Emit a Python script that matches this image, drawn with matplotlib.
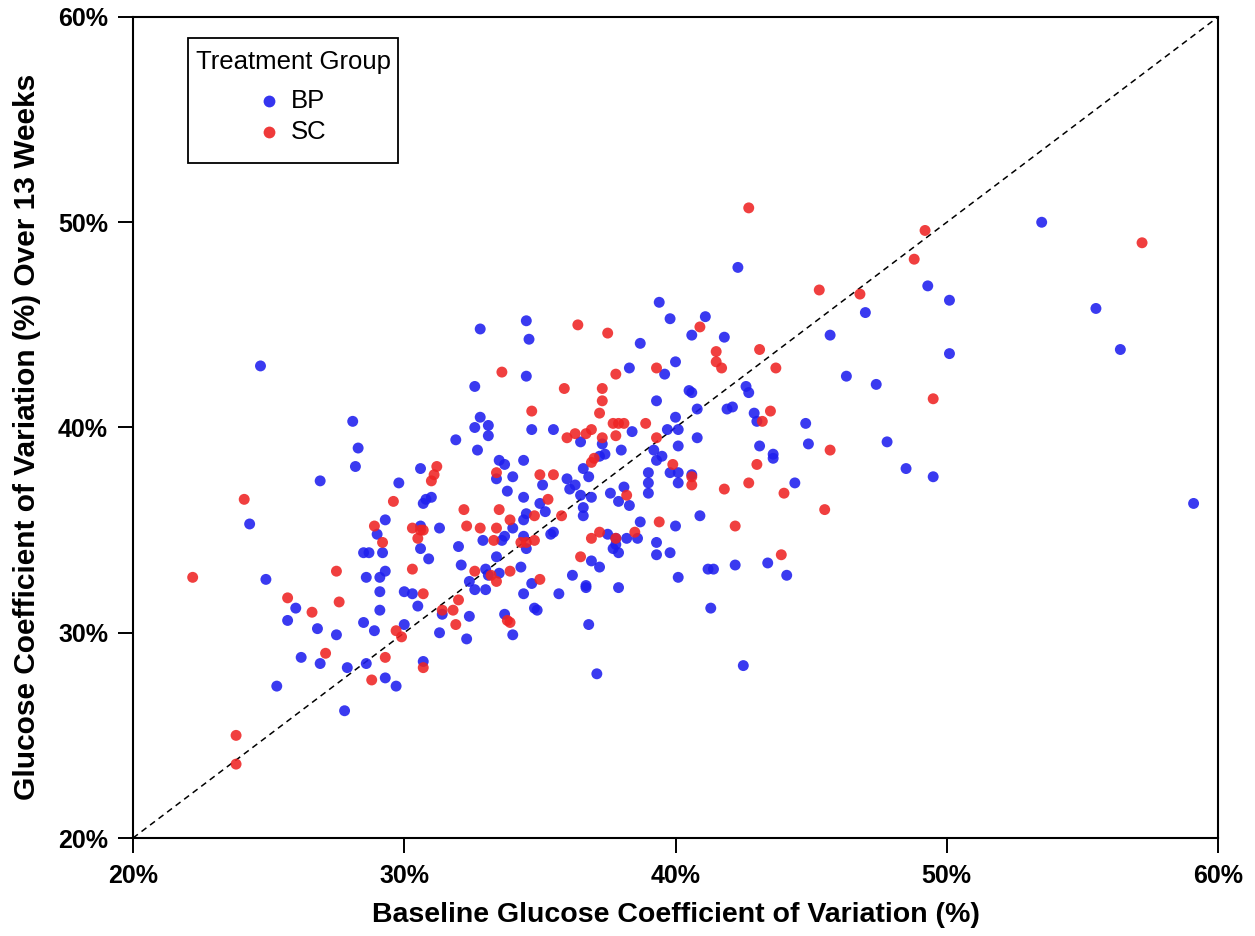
import matplotlib
matplotlib.use("Agg")
import matplotlib.pyplot as plt
from matplotlib.patches import Rectangle

plt.rcParams['font.family'] = ['Liberation Sans', 'DejaVu Sans']

# ---- data (percent) ----
bp_x = [24.7, 28.1, 28.3, 28.2, 26.9, 30.6, 29.8, 24.3, 29.3, 29.0, 30.6, 30.6, 28.5, 28.7, 29.2,
        29.3, 29.1, 28.6, 24.9, 29.1, 30.0, 30.3, 26.0, 29.1, 30.5, 25.7, 26.8, 28.5, 28.9, 27.5,
        30.0, 26.2, 26.9, 27.9, 28.6, 29.3, 29.7, 25.3, 27.8,
        39.4, 34.5, 32.8, 34.6, 39.8, 38.7, 40.0, 39.6, 38.3, 34.5, 32.6, 39.3, 40.0, 32.8, 32.6,
        33.1, 33.1, 34.7, 35.5, 38.4, 39.7, 36.5, 37.3, 40.1, 31.9, 32.7, 38.0, 37.4, 39.2, 39.5,
        39.3, 34.4, 33.5, 33.7, 37.2, 39.8, 40.1, 33.4, 34.0, 36.6, 36.8, 36.0, 36.3, 36.1, 35.1,
        33.8, 39.0, 39.0, 39.0, 38.1, 37.6, 37.9, 38.3, 36.5, 36.9, 36.6, 36.6, 35.0, 35.2, 34.4,
        31.0, 30.8, 30.7, 34.5, 34.4, 34.0, 31.3, 38.7, 40.0, 35.5, 35.4, 37.5, 37.8, 38.2, 38.6,
        37.7, 37.9, 37.8, 39.3, 39.3, 39.8, 40.1, 32.9, 33.7, 33.6, 34.4, 34.5, 32.0, 30.9, 33.4,
        36.9, 37.2, 32.1, 33.0, 33.1, 33.5, 34.3, 32.4, 32.6, 33.0, 34.7, 34.4, 36.2, 36.7, 36.7,
        37.9, 35.7, 31.4, 32.4, 31.3, 32.3, 33.7, 34.0, 34.8, 34.9, 36.8, 30.7, 37.1,
        42.3, 49.3, 50.1, 47.0, 45.7, 50.1, 41.1, 40.6, 41.8, 46.3, 47.4, 40.5, 40.6, 42.6, 42.7,
        40.8, 41.9, 42.1, 40.1, 42.9, 43.0, 44.8, 44.9, 47.8, 40.8, 43.1, 43.6, 43.6, 48.5, 49.5,
        40.1, 40.6, 44.4, 40.9, 41.2, 41.4, 42.2, 43.4, 44.1, 41.3, 42.5,
        53.5, 55.5, 56.4, 59.1]
bp_y = [43.0, 40.3, 39.0, 38.1, 37.4, 38.0, 37.3, 35.3, 35.5, 34.8, 35.2, 34.1, 33.9, 33.9, 33.9,
        33.0, 32.7, 32.7, 32.6, 32.0, 32.0, 31.9, 31.2, 31.1, 31.3, 30.6, 30.2, 30.5, 30.1, 29.9,
        30.4, 28.8, 28.5, 28.3, 28.5, 27.8, 27.4, 27.4, 26.2,
        46.1, 45.2, 44.8, 44.3, 45.3, 44.1, 43.2, 42.6, 42.9, 42.5, 42.0, 41.3, 40.5, 40.5, 40.0,
        40.1, 39.6, 39.9, 39.9, 39.8, 39.9, 39.3, 39.2, 39.1, 39.4, 38.9, 38.9, 38.7, 38.9, 38.6,
        38.4, 38.4, 38.4, 38.2, 38.6, 37.8, 37.3, 37.5, 37.6, 38.0, 37.6, 37.5, 37.2, 37.0, 37.2,
        36.9, 37.8, 37.3, 36.8, 37.1, 36.8, 36.4, 36.2, 36.7, 36.6, 36.1, 35.7, 36.3, 35.9, 36.6,
        36.6, 36.5, 36.3, 35.8, 35.5, 35.1, 35.1, 35.4, 35.2, 34.9, 34.8, 34.8, 34.6, 34.6, 34.6,
        34.1, 33.9, 34.3, 34.4, 33.8, 33.9, 32.7, 34.5, 34.7, 34.5, 34.7, 34.1, 34.2, 33.6, 33.7,
        33.5, 33.2, 33.3, 33.1, 32.8, 32.9, 33.2, 32.5, 32.1, 32.1, 32.4, 31.9, 32.8, 32.3, 32.2,
        32.2, 31.9, 30.9, 30.8, 30.0, 29.7, 30.9, 29.9, 31.2, 31.1, 30.4, 28.6, 28.0,
        47.8, 46.9, 46.2, 45.6, 44.5, 43.6, 45.4, 44.5, 44.4, 42.5, 42.1, 41.8, 41.7, 42.0, 41.7,
        40.9, 40.9, 41.0, 39.9, 40.7, 40.3, 40.2, 39.2, 39.3, 39.5, 39.1, 38.7, 38.5, 38.0, 37.6,
        37.8, 37.7, 37.3, 35.7, 33.1, 33.1, 33.3, 33.4, 32.8, 31.2, 28.4,
        50.0, 45.8, 43.8, 36.3]

sc_x = [24.1, 29.6, 28.9, 29.2, 30.3, 30.6, 30.5, 27.5, 30.3, 22.2, 25.7, 27.6, 26.6, 29.7, 29.9,
        27.1, 29.3, 28.8, 23.8, 23.8,
        36.4, 37.5, 39.3, 37.8, 33.6, 35.9, 37.3, 37.3, 37.2, 34.7, 37.7, 37.9, 38.1, 38.9, 36.0,
        36.3, 36.9, 36.7, 37.8, 37.3, 39.3, 36.9, 37.0, 39.9, 31.2, 31.1, 31.0, 33.4, 35.0, 35.5,
        38.2, 35.3, 32.2, 33.5, 35.8, 34.8, 33.9, 32.3, 32.8, 33.4, 30.7, 39.4, 37.2, 36.9, 37.8,
        38.5, 33.3, 34.3, 34.5, 34.8, 36.5, 32.6, 33.2, 33.4, 33.9, 35.0, 30.7, 32.0, 31.8, 31.4,
        31.9, 33.8, 33.9, 30.7,
        42.7, 45.3, 49.2, 48.8, 46.8, 40.9, 41.5, 41.5, 41.7, 43.1, 43.7, 49.5, 43.2, 43.5, 45.7,
        43.0,
        40.6, 40.6, 41.8, 42.7, 44.0, 45.5, 42.2, 43.9,
        57.2]
sc_y = [36.5, 36.4, 35.2, 34.4, 35.1, 35.0, 34.6, 33.0, 33.1, 32.7, 31.7, 31.5, 31.0, 30.1, 29.8,
        29.0, 28.8, 27.7, 25.0, 23.6,
        45.0, 44.6, 42.9, 42.6, 42.7, 41.9, 41.9, 41.3, 40.7, 40.8, 40.2, 40.2, 40.2, 40.2, 39.5,
        39.7, 39.9, 39.7, 39.6, 39.5, 39.5, 38.3, 38.5, 38.2, 38.1, 37.7, 37.4, 37.8, 37.7, 37.7,
        36.7, 36.5, 36.0, 36.0, 35.7, 35.7, 35.5, 35.2, 35.1, 35.1, 35.0, 35.4, 34.9, 34.6, 34.6,
        34.9, 34.5, 34.4, 34.4, 34.5, 33.7, 33.0, 32.8, 32.5, 33.0, 32.6, 31.9, 31.6, 31.1, 31.1,
        30.4, 30.6, 30.5, 28.3,
        50.7, 46.7, 49.6, 48.2, 46.5, 44.9, 43.7, 43.2, 42.9, 43.8, 42.9, 41.4, 40.3, 40.8, 38.9,
        38.2,
        37.6, 37.2, 37.0, 37.3, 36.8, 36.0, 35.2, 33.8,
        49.0]

groups = ["BP", "SC"]
ticks = [20, 30, 40, 50, 60]
tick_labels = ["20%", "30%", "40%", "50%", "60%"]

BLUE = "#1f1fee"
RED = "#ee2424"
W, H = 1255, 936


def fx(px):
    return px / W


def fy(py):
    return 1 - py / H


fig = plt.figure(figsize=(W / 100, H / 100), dpi=100)
ax = fig.add_axes([fx(133), fy(838), (1218 - 133) / W, (838 - 17) / H])

ax.plot([20, 60], [20, 60], ls=(0, (4, 3)), color="black", lw=1.1, zorder=1)
ax.scatter(bp_x, bp_y, s=62, color=BLUE, alpha=0.88, edgecolors="none", zorder=2)
ax.scatter(sc_x, sc_y, s=62, color=RED, alpha=0.88, edgecolors="none", zorder=3)

ax.set_xlim(20, 60)
ax.set_ylim(20, 60)
ax.set_xticks(ticks)
ax.set_xticklabels(tick_labels)
ax.set_yticks(ticks)
ax.set_yticklabels(tick_labels)
ax.tick_params(direction="out", length=11, width=1.4, labelsize=18)
ax.tick_params(axis="x", pad=8)
ax.tick_params(axis="y", pad=7)
for lab in ax.get_xticklabels() + ax.get_yticklabels():
    lab.set_fontweight("bold")
for sp in ax.spines.values():
    sp.set_linewidth(1.5)

fig.text(fx(676), fy(915), "Baseline Glucose Coefficient of Variation (%)",
         ha="center", va="center", fontsize=20.5, fontweight="bold")
fig.text(fx(27), fy(437), "Glucose Coefficient of Variation (%) Over 13 Weeks",
         ha="center", va="center", rotation=90, fontsize=21.5, fontweight="bold")

# ---- legend (built by hand to match box geometry) ----
fig.patches.append(Rectangle((fx(188), fy(163)), (398 - 188) / W, (163 - 38) / H,
                             transform=fig.transFigure, facecolor="white",
                             edgecolor="black", lw=1.3, zorder=5))
fig.text(fx(293), fy(62), "Treatment Group", ha="center", va="center",
         fontsize=18.5, zorder=6)
for name, col, ypx in zip(groups, (BLUE, RED), (101, 132)):
    fig.add_artist(plt.Line2D([fx(269)], [fy(ypx)], transform=fig.transFigure,
                              marker="o", markersize=8.5, color=col, alpha=0.9,
                              markeredgewidth=0, ls="none", zorder=6))
    fig.text(fx(291), fy(ypx), name, ha="left", va="center", fontsize=18.5, zorder=6)

fig.savefig("out.png", dpi=100)
